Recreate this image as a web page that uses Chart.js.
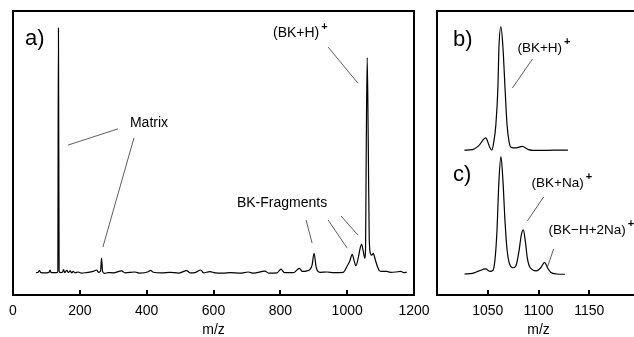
<!DOCTYPE html>
<html>
<head>
<meta charset="utf-8">
<script src="https://cdn.jsdelivr.net/npm/chart.js@4"></script>
<style>
  html, body { margin: 0; padding: 0; background: #fff; overflow: hidden; }
  body { width: 634px; height: 337px; position: relative; }
  #specA { position: absolute; left: 0; top: 0; }
  #specBC { position: absolute; left: 430px; top: 0; }
</style>
</head>
<body>
<canvas id="specA" width="438" height="337"></canvas>
<canvas id="specBC" width="240" height="337"></canvas>
<script>
const FONT = '"Liberation Sans", Arial, Helvetica, sans-serif';

// a) full spectrum
const mzA = [69, 75, 79, 83, 100, 108, 111, 114, 130, 134, 136, 138, 142, 148, 151, 155, 161, 166, 171, 176,
  180, 186, 195, 205, 220, 240, 250, 256, 262, 265, 268, 274, 285, 300, 325, 335, 365, 380, 405, 412,
  420, 445, 470, 495, 520, 530, 545, 562, 570, 589, 605, 629, 650, 680, 704, 720, 754, 765, 790, 802,
  812, 840, 857, 866, 880, 889, 895, 901, 907, 912, 919, 940, 960, 988, 995, 1000, 1008, 1015, 1021, 1026,
  1033, 1039, 1043, 1048, 1053, 1055, 1057, 1060, 1063, 1066, 1070, 1074, 1078, 1084, 1090, 1096, 1104, 1118,
  1130, 1145, 1160, 1170, 1178];
const intA = [7.9, 8.0, 8.6, 7.9, 7.8, 8.0, 8.8, 7.9, 7.9, 8.2, 94.0, 8.4, 7.9, 8.0, 8.9, 7.9, 8.7, 7.9, 8.5, 7.8,
  8.3, 7.8, 8.1, 7.7, 7.9, 8.3, 8.8, 8.0, 8.4, 13.0, 8.3, 7.6, 7.9, 7.8, 8.5, 7.8, 8.1, 7.7, 8.2, 8.7,
  8.0, 7.8, 8.0, 7.7, 8.6, 7.8, 7.9, 8.8, 7.8, 8.2, 7.8, 7.7, 7.9, 7.7, 8.1, 7.7, 8.4, 7.7, 7.8, 9.1,
  7.9, 7.9, 9.4, 8.3, 8.5, 9.0, 10.5, 14.7, 9.9, 8.4, 8.0, 8.1, 7.9, 8.0, 9.0, 10.2, 12.0, 14.3, 12.0, 10.3,
  13.0, 16.5, 17.9, 15.5, 12.9, 16.0, 50.0, 83.6, 55.0, 20.0, 14.5, 14.0, 14.7, 12.5, 10.2, 8.6, 8.3, 8.3,
  8.0, 8.1, 8.3, 7.9, 8.0];

// b) molecular ion region
const mzB = [1027, 1035, 1041, 1048, 1052, 1054, 1056, 1058, 1060, 1061, 1063, 1065, 1067, 1069, 1071, 1073,
  1078, 1084, 1090, 1100, 1115, 1129];
const intB = [51.0, 51.2, 52.5, 55.3, 52.0, 51.0, 54.0, 60.0, 73.0, 87.0, 94.4, 87.0, 73.0, 60.0, 54.0, 52.0,
  51.8, 52.3, 51.2, 50.9, 51.0, 51.0];

// c) same region, sodium adducts
const mzC = [1027, 1035, 1041, 1048, 1052, 1055, 1057, 1059, 1061, 1063, 1065, 1067, 1069, 1071, 1075, 1078,
  1081, 1083, 1085, 1087, 1089, 1092, 1098, 1102, 1106, 1109, 1112, 1118, 1126];
const intC = [7.4, 7.6, 8.4, 9.2, 8.3, 8.6, 12.0, 22.0, 40.0, 48.7, 40.0, 26.0, 16.0, 11.5, 9.6, 10.5,
  16.0, 21.0, 22.9, 19.0, 13.0, 9.5, 8.5, 9.5, 11.5, 9.5, 8.0, 7.4, 7.3];

// tick labels
const ticksA = [0, 200, 400, 600, 800, 1000, 1200];
const ticksBC = [1050, 1100, 1150];

// annotations (m/z, intensity)
const labelsA = [
  { text: 'a)', mz: 36, y: 90.1, size: 22 },
  { text: '(BK+H)', sup: '+', mz: 778, y: 92.3 },
  { text: 'Matrix', mz: 350, y: 60.6 },
  { text: 'BK-Fragments', mz: 670, y: 32.4 }
];
const leadersA = [
  [314, 58.5, 165, 52.8],
  [362, 55.3, 269, 16.9],
  [943, 87.3, 1032, 74.6],
  [877, 26.4, 895, 18.3],
  [943, 26.4, 1000, 16.5],
  [982, 27.8, 1032, 21.1]
];
const labelsBC = [
  { text: 'b)', mz: 1015.8, y: 89.8, size: 22 },
  { text: '(BK+H)', sup: '+', mz: 1079.2, y: 87.0, size: 13.5 },
  { text: 'c)', mz: 1015.8, y: 42.3, size: 22 },
  { text: '(BK+Na)', sup: '+', mz: 1093.1, y: 39.4, size: 13.5 },
  { text: '(BK\u2212H+2Na)', sup: '+', mz: 1109.9, y: 22.9, size: 13.5 }
];
const leadersBC = [
  [1094.1, 83.1, 1074.3, 72.9],
  [1105.0, 34.5, 1089.1, 26.1],
  [1114.9, 16.2, 1108.9, 9.9]
];

const toPoints = (xs, ys) => xs.map((v, i) => ({ x: v, y: ys[i] }));

// frame, inward ticks, leader lines and labels
const framePlugin = {
  id: 'frame',
  afterDraw(chart, args, opts) {
    const { ctx, chartArea: a, scales: { x, y } } = chart;
    ctx.save();
    ctx.strokeStyle = '#000';
    ctx.lineWidth = 2;
    ctx.strokeRect(a.left, a.top, a.right - a.left, a.bottom - a.top);
    x.ticks.forEach(t => {
      if (t.value <= x.min || t.value >= x.max) return;
      const px = Math.round(x.getPixelForValue(t.value));
      ctx.beginPath();
      ctx.moveTo(px, a.bottom);
      ctx.lineTo(px, a.bottom - 5);
      ctx.stroke();
    });

    ctx.lineWidth = 0.8;
    ctx.strokeStyle = '#333';
    (opts.leaders || []).forEach(l => {
      ctx.beginPath();
      ctx.moveTo(x.getPixelForValue(l[0]), y.getPixelForValue(l[1]));
      ctx.lineTo(x.getPixelForValue(l[2]), y.getPixelForValue(l[3]));
      ctx.stroke();
    });

    ctx.fillStyle = '#000';
    ctx.textBaseline = 'middle';
    ctx.textAlign = 'left';
    (opts.labels || []).forEach(l => {
      ctx.font = (l.size || 14) + 'px ' + FONT;
      const px = x.getPixelForValue(l.mz), py = y.getPixelForValue(l.y);
      ctx.fillText(l.text, px, py);
      if (l.sup) {
        const w = ctx.measureText(l.text).width;
        ctx.font = 'bold 11px ' + FONT;
        ctx.fillText(l.sup, px + w + 2, py - 6);
      }
    });
    ctx.restore();
  }
};

function makeOptions(min, max, ticks, hideEnds, leaders, labels, pad) {
  return {
    responsive: false,
    animation: false,
    devicePixelRatio: 1,
    layout: { padding: pad },
    plugins: {
      legend: { display: false },
      tooltip: { enabled: false },
      frame: { leaders: leaders, labels: labels }
    },
    elements: { point: { radius: 0 } },
    scales: {
      x: {
        type: 'linear',
        min: min,
        max: max,
        afterBuildTicks: scale => { scale.ticks = ticks.map(v => ({ value: v })); },
        afterFit: scale => { scale.height = 42; },
        grid: { display: false, drawTicks: false },
        border: { display: false },
        ticks: {
          padding: 8,
          maxRotation: 0,
          autoSkip: false,
          color: '#000',
          font: { family: FONT, size: 14 },
          callback: v => (hideEnds && (v <= min || v >= max)) ? '' : String(v)
        },
        title: {
          display: true,
          text: 'm/z',
          color: '#000',
          font: { family: FONT, size: 14, lineHeight: 1 },
          padding: { top: 0, bottom: 0 }
        }
      },
      y: { display: false, min: 0, max: 100 }
    }
  };
}

const lineStyle = {
  borderColor: '#000',
  borderWidth: 1.2,
  pointRadius: 0,
  fill: false,
  cubicInterpolationMode: 'monotone'
};

new Chart(document.getElementById('specA').getContext('2d'), {
  type: 'line',
  data: { datasets: [Object.assign({ label: 'a', data: toPoints(mzA, intA) }, lineStyle)] },
  options: makeOptions(0, 1200, ticksA, false, leadersA, labelsA, { left: 13, top: 11, right: 24, bottom: 0 }),
  plugins: [framePlugin]
});

new Chart(document.getElementById('specBC').getContext('2d'), {
  type: 'line',
  data: {
    datasets: [
      Object.assign({ label: 'b', data: toPoints(mzB, intB) }, lineStyle),
      Object.assign({ label: 'c', data: toPoints(mzC, intC) }, lineStyle)
    ]
  },
  options: makeOptions(1000, 1200, ticksBC, true, leadersBC, labelsBC, { left: 7, top: 11, right: 30, bottom: 0 }),
  plugins: [framePlugin]
});
</script>
</body>
</html>
